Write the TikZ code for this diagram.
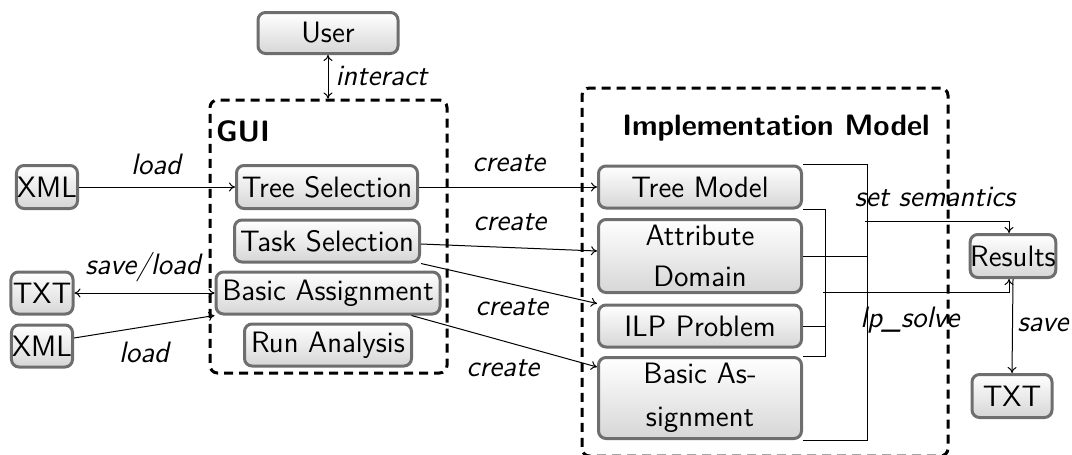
\documentclass[tikz,border=0pt]{standalone}
\usetikzlibrary{shadings,calc,arrows.meta}
\begin{document}
\begin{tikzpicture}[x=0.4pt,y=-0.4pt,
  font=\sffamily\fontsize{11.8}{14}\selectfont,
  box/.style={draw=black!57, line width=1.2pt, rounded corners=3pt, top color=white, bottom color=black!16, inner sep=0pt, align=center},
  lbl/.style={font=\sffamily\itshape\fontsize{11.8}{14}\selectfont, inner sep=0pt},
  ttl/.style={font=\sffamily\bfseries\fontsize{11.8}{14}\selectfont, inner sep=0pt},
  wire/.style={line width=0.4pt},
  conn/.style={line width=0.4pt, -{To[length=2.4pt,width=3.6pt]}},
  conn2/.style={line width=0.4pt, {To[length=2.4pt,width=3.6pt]}-{To[length=2.4pt,width=3.6pt]}},
  grp/.style={draw, line width=1.2pt, dash pattern=on 3.6pt off 2.4pt, rounded corners=3pt, inner sep=0pt}]
\useasboundingbox (0,0) rectangle (1072,454);

% group boxes
\node[grp, minimum width=94.8pt, minimum height=109.2pt] (gui) at (328.5,236.5) {};
\node[grp, minimum width=146.4pt, minimum height=147.2pt] (im) at (765,272) {};
\node[ttl] (guit) at (243,131) {GUI};
\node[ttl] (imt) at (776,128) {Implementation Model};

% nodes
\node[box, minimum width=56pt, minimum height=16.4pt] (user) at (328,33) {User};
\node[box, minimum width=24.4pt, minimum height=17.2pt] (xml1) at (47,187) {XML};
\node[box, minimum width=72.4pt, minimum height=17.2pt] (ts) at (327,187) {Tree Selection};
\node[box, minimum width=74pt, minimum height=16.8pt] (tks) at (327,241) {Task Selection};
\node[box, minimum width=89.6pt, minimum height=16.8pt] (ba) at (328,293) {Basic Assignment};
\node[box, minimum width=66.8pt, minimum height=16.8pt] (ra) at (328,345) {Run Analysis};
\node[box, minimum width=24.8pt, minimum height=16.8pt] (txt1) at (42,293) {TXT};
\node[box, minimum width=24.4pt, minimum height=16.8pt] (xml2) at (42,346) {XML};
\node[box, minimum width=81.2pt, minimum height=16.8pt] (tm) at (700,187) {Tree Model};
\node[box, minimum width=81.2pt, minimum height=29.2pt, text width=78pt] (ad) at (700,256) {Attribute\\[2.4pt]Domain};
\node[box, minimum width=81.2pt, minimum height=16.8pt] (ilp) at (700,326) {ILP Problem};
\node[box, minimum width=81.2pt, minimum height=32.4pt, text width=78pt] (bas) at (700,398) {Basic As-\\[3pt]signment};
\node[box, minimum width=33pt, minimum height=17.2pt] (res) at (1013,256) {Results};
\node[box, minimum width=32pt, minimum height=17.2pt] (txt2) at (1012,396) {TXT};

% connectors left
\draw[conn2] (user.south) -- (user.south |- gui.north);
\draw[conn] (xml1.east) -- (ts.west);
\draw[conn2] (txt1.east) -- (ba.west);
\draw[conn] ([yshift=3.2pt]xml2.east) -- (ba.south west);
\draw[conn] (ts.east) -- (tm.west);
\draw[conn] ([yshift=-1.2pt]tks.east) -- ([yshift=2pt]ad.west);
\draw[conn] (tks.south east) -- (ilp.north west);
\draw[conn] ([xshift=-12pt]ba.south east) -- ([yshift=-4.4pt]bas.north west);
\draw[conn] (res.south) -- (txt2.north);

% brackets right
\draw[wire] (tm.north east) -- ++(64,0) coordinate (b1) -- (b1 |- bas.south east) -- (bas.south east);
\draw[wire] (ad.east) -- (ad.east -| b1);
\coordinate (s1) at (865,221);
\draw[conn] (s1) -| ([xshift=-1.6pt]res.north);
\draw[wire] (tm.south east) -- ++(22,0) coordinate (b2) -- (b2 |- bas.north east) -- (bas.north east);
\draw[wire] (ilp.east) -- (ilp.east -| b2);
\coordinate (s2) at (823,292);
\draw[conn] (s2) -| ([xshift=-1.6pt]res.south);

% labels
\node[lbl, anchor=west] (linteract) at (335,76) {interact};
\node[lbl] (lload1) at (156,164) {load};
\node[lbl] (lsl) at (143,267) {save/load};
\node[lbl] (lload2) at (144,352) {load};
\node[lbl] (lc1) at (509,163) {create};
\node[lbl] (lc2) at (510,222) {create};
\node[lbl] (lc3) at (512,307) {create};
\node[lbl] (lc4) at (503,368) {create};
\node[lbl] (lss) at (935,197) {set semantics};
\node[lbl] (llp) at (910,320) {lp\_solve};
\node[lbl] (lsave) at (1043,325) {save};
\end{tikzpicture}
\end{document}
